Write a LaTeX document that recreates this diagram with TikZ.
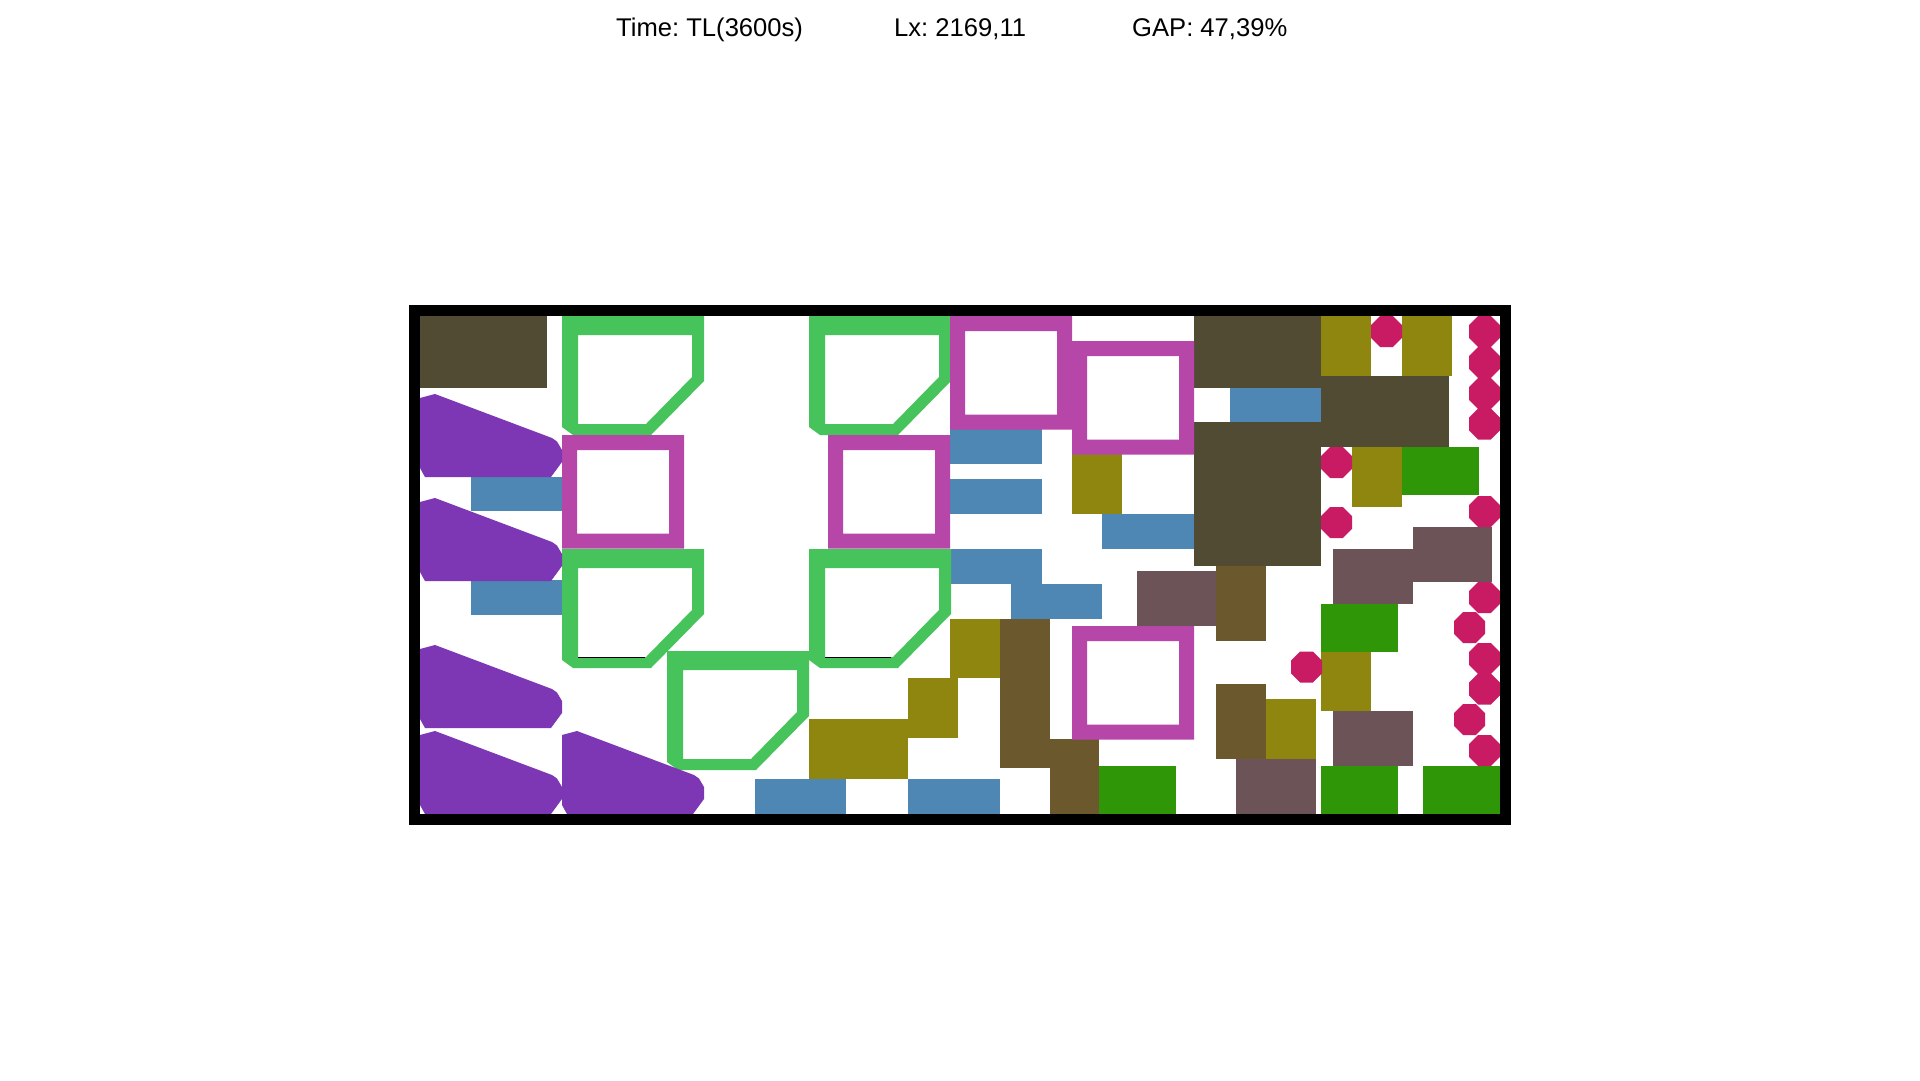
\documentclass[tikz,border=0pt]{standalone}
\usepackage{fontspec}
\setmainfont{Liberation Sans}
\frenchspacing
\definecolor{cDO}{HTML}{514B33}
\definecolor{cB}{HTML}{4F87B4}
\definecolor{cO}{HTML}{8F8610}
\definecolor{cBr}{HTML}{6B582C}
\definecolor{cMv}{HTML}{6B5357}
\definecolor{cGr}{HTML}{2F9608}
\definecolor{cCr}{HTML}{C81B64}
\definecolor{cG}{HTML}{46C35A}
\definecolor{cM}{HTML}{B746A9}
\definecolor{cP}{HTML}{7D37B4}
\tikzset{
  darkolive/.style={fill=cDO},
  bluebox/.style={fill=cB},
  olivebox/.style={fill=cO},
  brownbox/.style={fill=cBr},
  mauvebox/.style={fill=cMv},
  greenbox/.style={fill=cGr},
  title/.style={anchor=base west, inner sep=0pt, font=\fontsize{25.6}{30}\selectfont\frenchspacing},
}
\newcommand\GreenPart[2]{\begin{scope}[shift={(#1,#2)}]
\fill[cG, even odd rule] (0,0) -- (142,0) -- (142,65) -- (89,119) -- (11,119) -- (0,111) -- cycle
  (16,19) -- (130,19) -- (130,61) -- (84,108) -- (16,108) -- cycle;
\end{scope}}
\newcommand\MagPart[2]{\begin{scope}[shift={(#1,#2)}]
\fill[cM, even odd rule] (0,0) rectangle (122,113.5) (15,15) rectangle (107,98.5);
\end{scope}}
\newcommand\PurPart[2]{\begin{scope}[shift={(#1,#2)}]
\fill[cP] (0,4) -- (15,0) -- (132,44) -- (137,47.5) -- (142,56) -- (142,68) -- (131,83) -- (5,83) -- (0,74) -- cycle;
\end{scope}}
\newcommand\OctPart[2]{\begin{scope}[shift={(#1,#2)}]
\fill[cCr] (-6.4,-15.5) -- (6.4,-15.5) -- (15.5,-6.4) -- (15.5,6.4) -- (6.4,15.5) -- (-6.4,15.5) -- (-15.5,6.4) -- (-15.5,-6.4) -- cycle;
\end{scope}}
\begin{document}
\begin{tikzpicture}[x=1pt,y=-1pt]
\useasboundingbox[fill=white] (0,0) rectangle (1920,1080);
% titles
\node[title] (time) at (616,36.7) {Time: TL(3600s)};
\node[title] (lx) at (894,36.7) {Lx: 2169,11};
\node[title] (gap) at (1132,36.7) {GAP: 47,39\%};
% dark olive
\fill[darkolive] (420,316) rectangle (547,388);
\fill[darkolive] (1194,316) rectangle (1321,388);
\fill[darkolive] (1194,422) rectangle (1321,566);
\fill[darkolive] (1321,376) rectangle (1449,447);
% blue
\fill[bluebox] (471,477) rectangle (562,511);
\fill[bluebox] (471,580) rectangle (562,615);
\fill[bluebox] (950,429) rectangle (1042,464);
\fill[bluebox] (950,479) rectangle (1042,514);
\fill[bluebox] (950,549) rectangle (1042,584);
\fill[bluebox] (1011,584) rectangle (1102,619);
\fill[bluebox] (1102,514) rectangle (1194,549);
\fill[bluebox] (1230,388) rectangle (1321,422);
\fill[bluebox] (755,779) rectangle (846,814);
\fill[bluebox] (908,779) rectangle (1000,814);
% olive
\fill[olivebox] (1072,454) rectangle (1122,514);
\fill[olivebox] (950,619) rectangle (1000,678);
\fill[olivebox] (908,678) rectangle (958,738);
\fill[olivebox] (809,719) rectangle (908,779);
\fill[olivebox] (1321,316) rectangle (1371,376);
\fill[olivebox] (1402,316) rectangle (1452,376);
\fill[olivebox] (1352,447) rectangle (1402,507);
\fill[olivebox] (1321,652) rectangle (1371,711);
\fill[olivebox] (1266,699) rectangle (1316,759);
% brown
\fill[brownbox] (1000,619) rectangle (1050,768);
\fill[brownbox] (1050,739) rectangle (1099,814);
\fill[brownbox] (1216,566) rectangle (1266,641);
\fill[brownbox] (1216,684) rectangle (1266,759);
% mauve
\fill[mauvebox] (1137,571) rectangle (1216,626);
\fill[mauvebox] (1333,549) rectangle (1413,604);
\fill[mauvebox] (1413,527) rectangle (1492,582);
\fill[mauvebox] (1333,711) rectangle (1413,766);
\fill[mauvebox] (1236,759) rectangle (1316,814);
% bright green
\fill[greenbox] (1402,447) rectangle (1479,495);
\fill[greenbox] (1321,604) rectangle (1398,652);
\fill[greenbox] (1099,766) rectangle (1176,814);
\fill[greenbox] (1321,766) rectangle (1398,814);
\fill[greenbox] (1423,766) rectangle (1500,814);
% green outlines
\GreenPart{562}{316}
\GreenPart{809}{316}
\GreenPart{562}{549}
\GreenPart{809}{549}
\GreenPart{667}{651}
\draw[line width=1pt] (578,657) -- (645,657);
\draw[line width=1pt] (825,657) -- (891,657);
% magenta
\MagPart{562}{435}
\MagPart{828}{435}
\MagPart{950}{316}
\MagPart{1072}{341}
\MagPart{1072}{626}
% purple
\PurPart{420}{394}
\PurPart{420}{498}
\PurPart{420}{645}
\PurPart{420}{731}
\PurPart{562}{731}
% octagons
\OctPart{1386.5}{331.5}
\OctPart{1484.5}{331.5}
\OctPart{1484.5}{362.5}
\OctPart{1484.5}{393.5}
\OctPart{1484.5}{424}
\OctPart{1336.5}{462.5}
\OctPart{1336.5}{522.5}
\OctPart{1484.5}{511.5}
\OctPart{1484.5}{597.5}
\OctPart{1469.5}{627.5}
\OctPart{1484.5}{658.5}
\OctPart{1484.5}{689}
\OctPart{1469.5}{719.5}
\OctPart{1484.5}{750.5}
\OctPart{1306.5}{667}
% container
\draw[line width=11pt] (414.5,310.5) rectangle (1505.5,819.5);
\end{tikzpicture}
\end{document}
